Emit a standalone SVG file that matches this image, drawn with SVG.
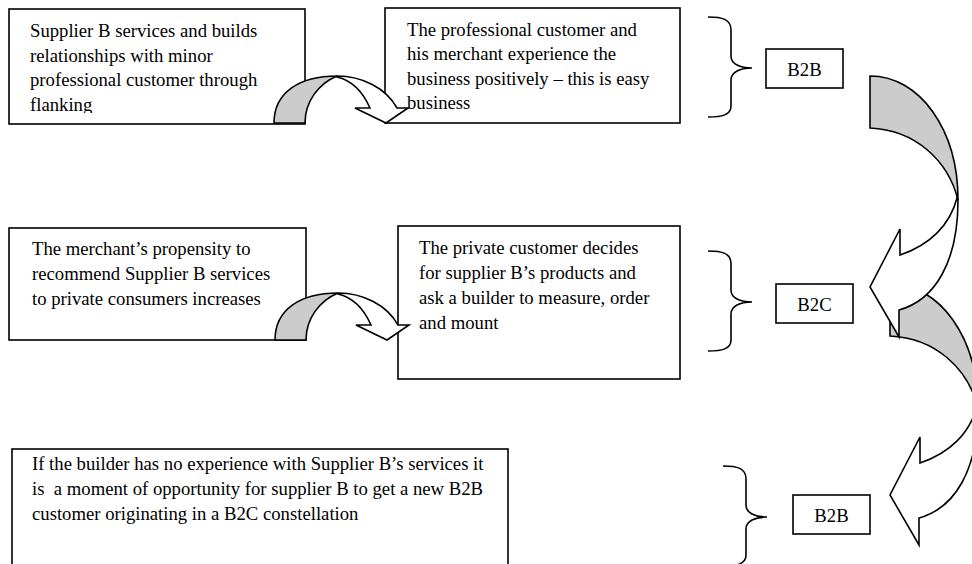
<svg xmlns="http://www.w3.org/2000/svg" width="972" height="564" viewBox="0 0 972 564">
  <style>
    .box { fill: #ffffff; stroke: #000000; stroke-width: 1.6; }
    .txt { font-family: "Liberation Serif", "Times New Roman", serif; font-size: 18.7px; fill: #000000; white-space: pre; }
    .lbl { text-anchor: middle; }
    .back { fill: #cccccc; stroke: #000000; stroke-width: 1.6; stroke-linejoin: miter; }
    .front { fill: #ffffff; stroke: #000000; stroke-width: 1.6; stroke-linejoin: miter; }
    .brace { fill: none; stroke: #000000; stroke-width: 1.6; }
  </style>
  <defs>
    <clipPath id="clip-box1"><rect x="9" y="9" width="296" height="104"/></clipPath>
    <!-- small curved arrow between two text boxes -->
    <g id="hop-arrow">
      <path class="back" d="M274,123 C274,92 300,76 337,76 C318,84 305,102 305,123 Z"/>
      <path class="front" d="M337,76 C362,76 386,88 397,108 L408,108 L386,123 L355,108 L370,108 C362,90 350,80 337,77 Z"/>
    </g>
    <!-- large curved arrow down the right side -->
    <g id="side-arrow">
      <path class="back" d="M870,76 C920,76 958,130 958,200 C948,160 915,130 870,128 Z"/>
      <path class="front" d="M958,200 C958,262 935,300 899,310 L899,337 L870,287 L900,229 L900,255 C930,245 950,225 957,198 Z"/>
    </g>
    <path id="brace" class="brace" d="M708,17 C722,17 731,19 731,30 L731,56 C731,64 740,68 752,68 C740,68 731,72 731,80 L731,106 C731,115 722,117 708,117"/>
  </defs>

  <!-- text boxes -->
  <g id="node-flanking">
    <rect class="box" x="9" y="9" width="296" height="115"/>
    <g clip-path="url(#clip-box1)">
      <text class="txt" x="30" y="37">Supplier B services and builds</text>
      <text class="txt" x="30" y="62">relationships with minor</text>
      <text class="txt" x="30" y="86">professional customer through</text>
      <text class="txt" x="30" y="111">flanking</text>
    </g>
  </g>
  <g id="node-easy-business">
    <rect class="box" x="385" y="8" width="295" height="115"/>
    <text class="txt" x="407" y="36">The professional customer and</text>
    <text class="txt" x="407" y="60">his merchant experience the</text>
    <text class="txt" x="407" y="85">business positively – this is easy</text>
    <text class="txt" x="407" y="109">business</text>
  </g>
  <g id="node-recommend">
    <rect class="box" x="9" y="228" width="297" height="112"/>
    <text class="txt" x="32" y="255">The merchant’s propensity to</text>
    <text class="txt" x="32" y="280">recommend Supplier B services</text>
    <text class="txt" x="32" y="305">to private consumers increases</text>
  </g>
  <g id="node-private-customer">
    <rect class="box" x="398" y="226" width="282" height="153"/>
    <text class="txt" x="419" y="254">The private customer decides</text>
    <text class="txt" x="419" y="279">for supplier B’s products and</text>
    <text class="txt" x="419" y="304">ask a builder to measure, order</text>
    <text class="txt" x="419" y="329">and mount</text>
  </g>
  <g id="node-opportunity">
    <rect class="box" x="12" y="449" width="496" height="130"/>
    <text class="txt" x="32" y="470">If the builder has no experience with Supplier B’s services it</text>
    <text class="txt" x="32" y="495">is  a moment of opportunity for supplier B to get a new B2B</text>
    <text class="txt" x="32" y="520">customer originating in a B2C constellation</text>
  </g>

  <!-- connectors -->
  <g id="connectors">
    <use href="#hop-arrow"/>
    <use href="#hop-arrow" transform="translate(1,217)"/>
    <use href="#side-arrow" transform="translate(20,208)"/>
    <use href="#side-arrow"/>
  </g>

  <!-- stage labels with braces -->
  <g id="node-b2b-top">
    <use href="#brace"/>
    <rect class="box" x="766" y="49" width="77" height="39"/>
    <text class="txt lbl" x="804.5" y="75.5">B2B</text>
  </g>
  <g id="node-b2c">
    <use href="#brace" transform="translate(0,234)"/>
    <rect class="box" x="776" y="284" width="77" height="39"/>
    <text class="txt lbl" x="814.5" y="310.5">B2C</text>
  </g>
  <g id="node-b2b-bottom">
    <use href="#brace" transform="translate(15,449)"/>
    <rect class="box" x="793" y="495" width="77" height="39"/>
    <text class="txt lbl" x="831.5" y="521.5">B2B</text>
  </g>
</svg>
